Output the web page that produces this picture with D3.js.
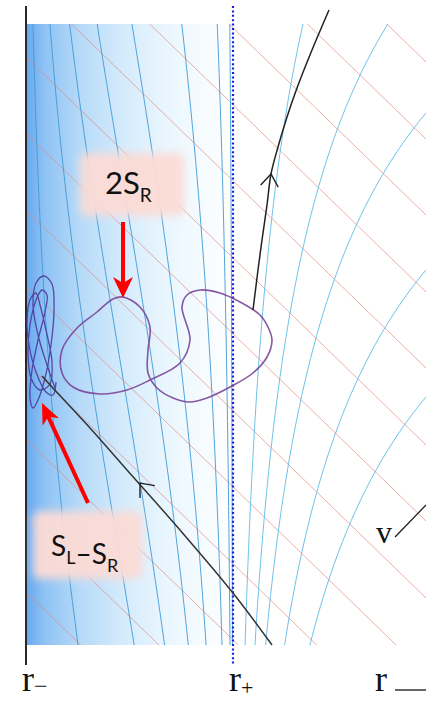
<!DOCTYPE html>
<html><head><meta charset="utf-8">
<script src="https://cdn.jsdelivr.net/npm/d3@7"></script>
<style>html,body{margin:0;padding:0;background:#fff;overflow:hidden}</style>
</head><body>
<svg id="c" width="426" height="703"></svg>
<script>
// ---------- data (diagram units: u = r - r_-, T = v - r style time coordinate) ----------
const rHorizons = [0, 207];                 // r_-, r_+
const tickLabels = [{u: 0, base: "r", sub: "\u2212"}, {u: 207, base: "r", sub: "+"}];
const kInside  = [364, 263];                // tortoise-like coefficients between horizons
const kOutside = [400, 350];                // outside r_+
const insideT  = [-796, -440, -241, -45, 167, 516, 999, 1600];   // constant-t curves inside
const outsideT = [890, 666, 524, 367, 240];                      // constant-t curves outside
const pinkV    = [971, 894, 818, 741, 665, 588, 512, 435, 359, 282, 206, 129, 53]; // constant-v lines
const vSlope   = 0.97;
const figure8 = [[156,338],[164,305],[154,282],[124,265],[101,255],[74,251],[47,258],[36,272],[36,295],
  [51,317],[71,333],[87,346],[97,348],[114,338],[124,318],[122,295],[122,272],[131,257],[147,247],
  [164,243],[181,247],[204,258],[227,272],[241,288],[246,305],[242,318],[234,330],[214,343],[194,352],
  [174,355],[161,350]];
const tangle = [[29,257],[21,280],[12,310],[7,340],[10,362],[18,369],[26,361],[28,335],[25,300],[19,267],
  [12,245],[7,237],[4,247],[6,275],[12,305],[19,333],[21,350],[16,355],[10,345],[4,320],[2,293],[5,267],
  [14,255],[24,261],[26,283],[20,315],[14,340],[10,352],[4,345],[1,325],[3,300],[10,273],[20,253],[27,250],[30,263]];
const outgoingRay = [[227,335],[232,375],[236,405],[241,440],[245,471],[252,498],[261,528],[271,557],[286,595],[303,635]];
const ingoingRay  = [[16,269],[26,258],[64,217],[101,175],[154,115],[207,52],[246,0]];
const labelTop = {base: "2S", sub: "R"};
const labelBottom = [{t: "S", s: "L"}, {t: "\u2013S", s: "R"}];

// ---------- setup ----------
const svg = d3.select('#c');
const x = d3.scaleLinear().domain([0, 207]).range([26, 233]);
const y = d3.scaleLinear().domain([0, 621]).range([645, 24]);
const pLeft = 27, pRight = 426, pTop = 24, pBottom = 645;

const defs = svg.append('defs');
const grad = defs.append('linearGradient').attr('id', 'shade')
  .attr('gradientUnits', 'userSpaceOnUse').attr('x1', 27).attr('x2', 240).attr('y1', 0).attr('y2', 0);
[[0, '#69a8ee'], [0.08, '#8ec2f4'], [0.25, '#b6daf8'], [0.45, '#d4ebfc'], [0.65, '#e9f6fe'], [0.85, '#f7fcff'], [1, '#ffffff']]
  .forEach(([o, c]) => grad.append('stop').attr('offset', o).attr('stop-color', c));
defs.append('clipPath').attr('id', 'plotClip').append('rect')
  .attr('x', pLeft).attr('y', pTop).attr('width', pRight - pLeft).attr('height', pBottom - pTop);
const f = defs.append('filter').attr('id', 'soft').attr('x', '-40%').attr('y', '-40%').attr('width', '180%').attr('height', '180%');
f.append('feGaussianBlur').attr('stdDeviation', 4);

svg.append('rect').attr('x', pLeft).attr('y', pTop).attr('width', 240 - pLeft).attr('height', pBottom - pTop)
  .attr('fill', 'url(#shade)');

const line = d3.line().x(d => x(d[0])).y(d => y(d[1]));
const grid = svg.append('g').attr('clip-path', 'url(#plotClip)');

// constant-v lines
pinkV.forEach(v => {
  grid.append('path').attr('d', line([[-5, v + 5 * vSlope], [410, v - 410 * vSlope]]))
    .attr('fill', 'none').attr('stroke', '#e3877c').attr('stroke-width', 0.9).attr('opacity', 0.75);
});

// samples
const geo = [];
for (let i = 0; i <= 500; i++) geo.push(Math.pow(10, -6 + i * (Math.log10(210) + 6) / 500));
function keepRange(pts) {
  return pts.filter(p => p[1] > -45 && p[1] < 690);
}
const inU = Array.from(new Set(geo.filter(e => e < 207).flatMap(e => [e, 207 - e]))).filter(u => u > 0 && u < 207).sort((a, b) => a - b);
insideT.forEach(t => {
  const pts = inU.map(u => [u, t + kInside[0] * Math.log(207 - u) - kInside[1] * Math.log(u)]);
  grid.append('path').attr('d', line(keepRange(pts)))
    .attr('fill', 'none').attr('stroke', '#3f9ad6').attr('stroke-width', 0.9);
});
const outU = geo.map(e => 207 + e).filter(u => u < 405);
outsideT.forEach(t => {
  const pts = outU.map(u => [u, t + kOutside[0] * Math.log(u - 207) - kOutside[1] * Math.log(u)]);
  grid.append('path').attr('d', line(keepRange(pts)))
    .attr('fill', 'none').attr('stroke', '#5fbbe6').attr('stroke-width', 0.9);
});

// axis at r_- and dotted r_+
svg.append('line').attr('x1', x(rHorizons[0])).attr('x2', x(rHorizons[0])).attr('y1', 6).attr('y2', 665)
  .attr('stroke', '#111').attr('stroke-width', 1.8);
svg.append('line').attr('x1', x(rHorizons[1])).attr('x2', x(rHorizons[1])).attr('y1', 6).attr('y2', 666)
  .attr('stroke', '#1c1ce0').attr('stroke-width', 2.2).attr('stroke-dasharray', '2,2.4');

// purple trajectory
svg.append('path').attr('d', d3.line().x(d => x(d[0])).y(d => y(d[1])).curve(d3.curveCatmullRomClosed)(figure8))
  .attr('fill', 'none').attr('stroke', '#7a4598').attr('stroke-width', 1.6).attr('opacity', 0.9);
svg.append('path').attr('d', d3.line().x(d => x(d[0])).y(d => y(d[1])).curve(d3.curveCatmullRom)(tangle))
  .attr('fill', 'none').attr('stroke', '#4a3a9e').attr('stroke-width', 1.3).attr('opacity', 0.9);

// black rays
const smooth = d3.line().x(d => x(d[0])).y(d => y(d[1])).curve(d3.curveCatmullRom);
svg.append('path').attr('d', smooth(outgoingRay)).attr('fill', 'none').attr('stroke', '#222').attr('stroke-width', 1.5);
svg.append('path').attr('d', smooth(ingoingRay)).attr('fill', 'none').attr('stroke', '#333').attr('stroke-width', 1.5);

function chevron(p, q, len, ang) {
  const px = x(p[0]), py = y(p[1]), qx = x(q[0]), qy = y(q[1]);
  let dx = qx - px, dy = qy - py; const n = Math.hypot(dx, dy); dx /= n; dy /= n;
  const a = ang * Math.PI / 180;
  const r1 = [dx * Math.cos(a) - dy * Math.sin(a), dx * Math.sin(a) + dy * Math.cos(a)];
  const r2 = [dx * Math.cos(-a) - dy * Math.sin(-a), dx * Math.sin(-a) + dy * Math.cos(-a)];
  svg.append('path').attr('d', `M${px + r1[0] * len},${py + r1[1] * len}L${px},${py}L${px + r2[0] * len},${py + r2[1] * len}`)
    .attr('fill', 'none').attr('stroke', '#222').attr('stroke-width', 1.4);
}
chevron(outgoingRay[4], outgoingRay[3], 15, 36);
chevron([114, 162], [130, 143], 15, 40);

// label boxes
svg.append('rect').attr('x', 80).attr('y', 153).attr('width', 104).attr('height', 63).attr('rx', 6)
  .attr('fill', '#fcdcd6').attr('opacity', 0.95).attr('filter', 'url(#soft)');
svg.append('rect').attr('x', 33).attr('y', 511).attr('width', 109).attr('height', 68).attr('rx', 6)
  .attr('fill', '#fcdcd6').attr('opacity', 0.95).attr('filter', 'url(#soft)');

const t1 = svg.append('text').attr('x', 105).attr('y', 194).attr('font-family', 'Lato, "Open Sans", sans-serif')
  .attr('font-size', 31).attr('fill', '#111');
t1.append('tspan').text(labelTop.base);
t1.append('tspan').attr('font-size', 19).attr('dy', 8).text(labelTop.sub);

const t2 = svg.append('text').attr('x', 51).attr('y', 556).attr('font-family', 'Lato, "Open Sans", sans-serif')
  .attr('font-size', 28).attr('fill', '#111');
labelBottom.forEach(p => {
  t2.append('tspan').attr('dy', 0).text(p.t);
  t2.append('tspan').attr('font-size', 18).attr('dy', 8).text(p.s);
  t2.append('tspan').attr('dy', -8).text('');
});

// red arrows
function redArrow(tail, tip, hl, hw, notch) {
  let dx = tail[0] - tip[0], dy = tail[1] - tip[1]; const n = Math.hypot(dx, dy); dx /= n; dy /= n;
  const bx = tip[0] + dx * hl, by = tip[1] + dy * hl;
  const nx = tip[0] + dx * (hl - notch), ny = tip[1] + dy * (hl - notch);
  svg.append('line').attr('x1', tail[0]).attr('y1', tail[1]).attr('x2', nx).attr('y2', ny)
    .attr('stroke', '#ff0000').attr('stroke-width', 4);
  svg.append('path').attr('d', `M${tip[0]},${tip[1]}L${bx - dy * hw},${by + dx * hw}L${nx},${ny}L${bx + dy * hw},${by - dx * hw}Z`)
    .attr('fill', '#ff0000');
}
redArrow([123, 222], [123, 298], 21, 10, 6);
redArrow([88, 503], [42, 403], 21, 9, 6);

// bottom labels
tickLabels.forEach((d, i) => {
  const t = svg.append('text').attr('x', x(d.u) - 4).attr('y', 691)
    .attr('font-family', '"Liberation Serif", "Times New Roman", serif').attr('font-size', 36).attr('fill', '#111');
  t.append('tspan').text(d.base);
  t.append('tspan').attr('font-size', i === 0 ? 24 : 22).attr('dy', i === 0 ? 3 : 4).text(d.sub);
});
svg.append('text').attr('x', 375).attr('y', 691).attr('font-family', '"Liberation Serif", serif')
  .attr('font-size', 36).attr('fill', '#111').text('r');
svg.append('line').attr('x1', 395).attr('x2', 426).attr('y1', 690).attr('y2', 690).attr('stroke', '#666').attr('stroke-width', 2);
svg.append('text').attr('x', 376).attr('y', 543).attr('font-family', '"Liberation Serif", serif')
  .attr('font-size', 32).attr('fill', '#111').text('v');
svg.append('line').attr('x1', 395).attr('y1', 537).attr('x2', 426).attr('y2', 505).attr('stroke', '#222').attr('stroke-width', 1.3);
</script>
</body></html>
